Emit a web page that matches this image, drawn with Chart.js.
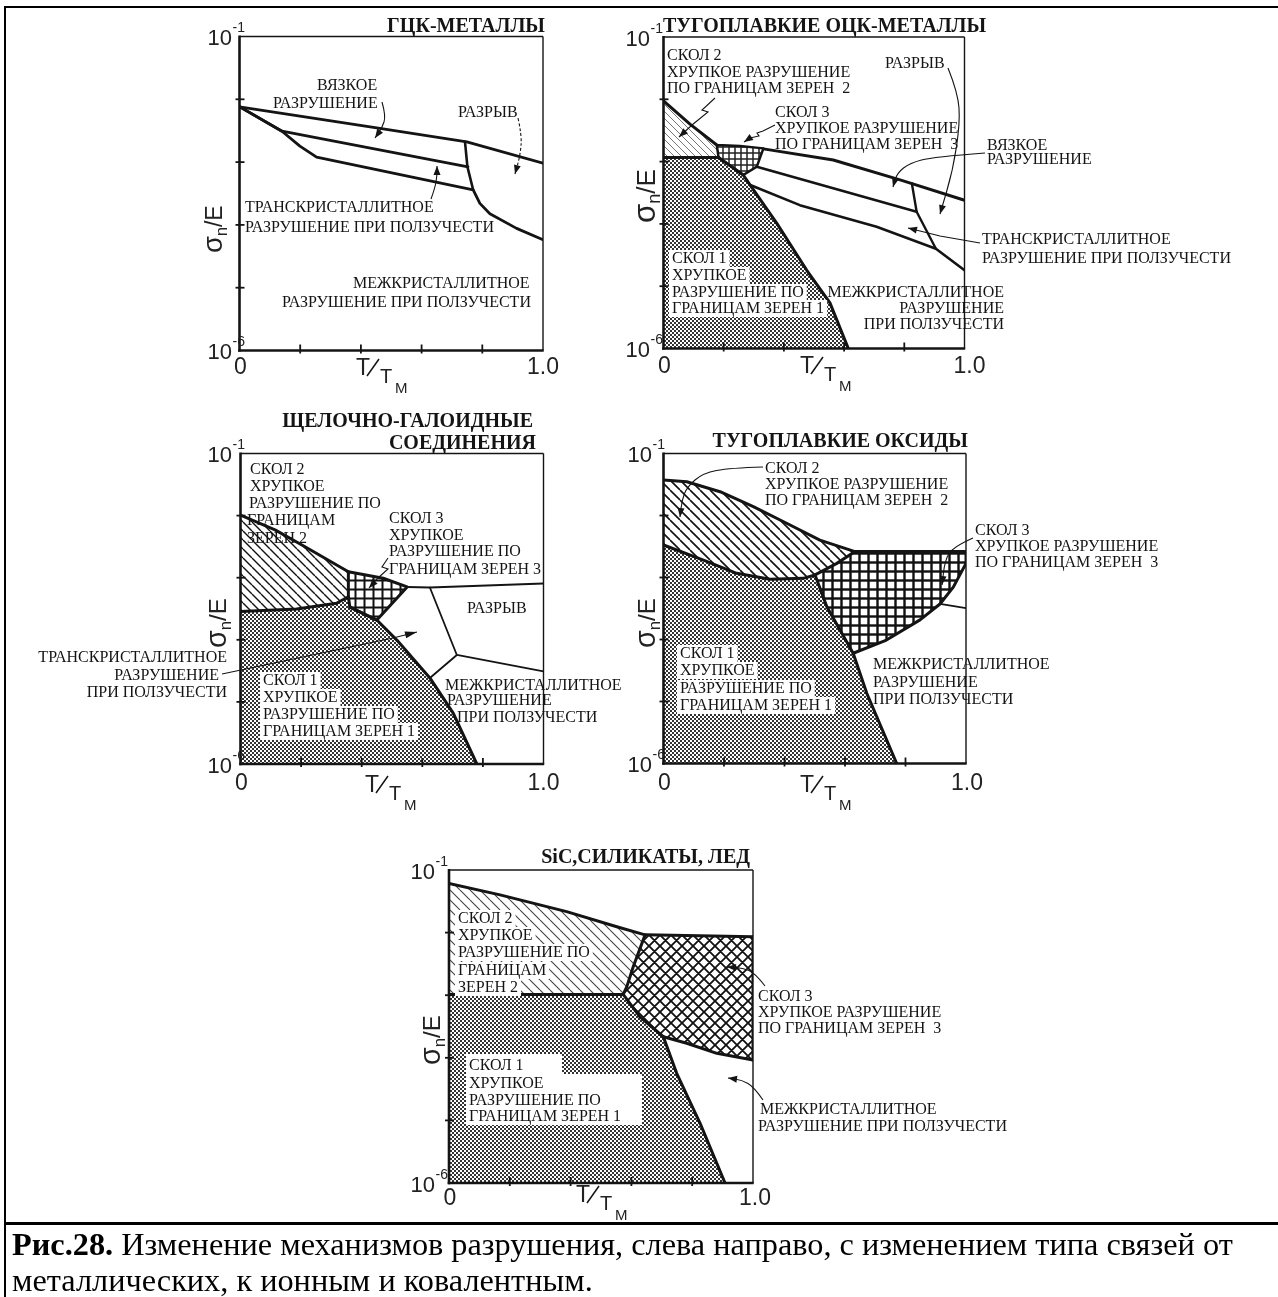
<!DOCTYPE html>
<html lang="ru">
<head>
<meta charset="utf-8">
<title>Карты механизмов разрушения</title>
<script src="https://cdn.jsdelivr.net/npm/chart.js@4.4.1/dist/chart.umd.min.js"></script>
<style>
  html, body { margin: 0; padding: 0; background: #fff; }
  #sheet { position: relative; width: 1278px; height: 1297px; overflow: hidden; background: #fff; }
  #sheet canvas { position: absolute; left: 0; top: 0; }
  .rule { position: absolute; background: #000; }
  #caption { position: absolute; left: 12px; top: 1226px; font: 32.3px/36px "Liberation Serif", "Times New Roman", serif; color: #000; white-space: nowrap; }
</style>
</head>
<body>
<div id="sheet">
  <canvas id="fcc" width="1278" height="1297"></canvas>
  <canvas id="bcc" width="1278" height="1297"></canvas>
  <canvas id="halide" width="1278" height="1297"></canvas>
  <canvas id="oxide" width="1278" height="1297"></canvas>
  <canvas id="sic" width="1278" height="1297"></canvas>
  <div class="rule" style="left:4px;top:6px;width:1274px;height:2px"></div>
  <div class="rule" style="left:4px;top:6px;width:2px;height:1291px"></div>
  <div class="rule" style="left:4px;top:1222px;width:1274px;height:3px"></div>
  <div id="caption"><b>Рис.28.</b> Изменение механизмов разрушения, слева направо, с изменением типа связей от<br>металлических, к ионным и ковалентным.</div>
</div>
<script>
var W = 1278, H = 1297;
var INK = '#141414';
var SERIF = '"Liberation Serif", "Times New Roman", serif';
var SANS = '"Liberation Sans", Arial, sans-serif';

// axes shared by all maps: T/Tm (0..1) and sigma_n/E (log, 1e-6..1e-1)
var xTickValues = [0.2, 0.4, 0.6, 0.8];
var yTickValues = [1e-2, 1e-3, 1e-4, 1e-5];
var xEndLabels = [0, 1];
var yEndLabels = [1e-1, 1e-6];

// ГЦК-металлы: field boundaries as [T/Tm, sigma/E]
var fccDuctileTop = [[0, 7.6e-3], [0.452, 3.5e-3], [0.749, 2.1e-3], [1, 9.6e-4]];
var fccDuctileBottom = [[0, 7.6e-3], [0.14, 3.1e-3], [0.753, 8.4e-4]];
var fccCreepBottom = [[0, 7.6e-3], [0.14, 3.1e-3], [0.199, 1.8e-3], [0.254, 1.2e-3], [0.77, 3.6e-4],
  [0.792, 2.2e-4], [0.825, 1.5e-4], [0.913, 8.8e-5], [1, 5.8e-5]];
var fccRupture = [[0.743, 2.1e-3], [0.751, 8.4e-4], [0.77, 3.6e-4]];

// тугоплавкие ОЦК-металлы
var bccCleavage2Edge = [[0, 9.4e-3], [0.088, 4.0e-3], [0.177, 1.85e-3]];
var bccCleavage1Top = [[0, 1.16e-3], [0.183, 1.16e-3]];
var bccCleavage3Field = [[0.177, 1.85e-3], [0.254, 1.78e-3], [0.332, 1.63e-3], [0.31, 8.3e-4],
  [0.265, 6.1e-4], [0.183, 1.16e-3], [0.177, 1.85e-3]];
var bccCleavage1Edge = [[0.183, 1.16e-3], [0.265, 6.1e-4], [0.288, 4.2e-4], [0.376, 1.03e-4],
  [0.476, 1.8e-5], [0.553, 5.4e-6], [0.614, 1e-6]];
var bccDuctileTop = [[0.332, 1.6e-3], [0.564, 1.06e-3], [0.786, 5.1e-4], [1, 2.4e-4]];
var bccDuctileBottom = [[0.31, 8.3e-4], [0.841, 1.57e-4]];
var bccCreepBottom = [[0.288, 4.2e-4], [0.453, 2.0e-4], [0.708, 9.0e-5], [0.905, 4.0e-5], [1, 1.8e-5]];
var bccRupture = [[0.825, 4.5e-4], [0.841, 1.57e-4], [0.905, 4.0e-5]];

// щелочно-галоидные соединения
var ahCleavage2Top = [[0, 1.02e-2], [0.114, 5.9e-3], [0.213, 3.15e-3], [0.356, 1.25e-3]];
var ahCleavage1Top = [[0, 2.86e-4], [0.185, 3.13e-4], [0.317, 3.87e-4], [0.356, 4.94e-4]];
var ahCleavage3Field = [[0.356, 1.25e-3], [0.471, 9.8e-4], [0.55, 7.1e-4], [0.45, 2.08e-4],
  [0.361, 3.37e-4], [0.356, 4.94e-4], [0.356, 1.25e-3]];
var ahCleavage1Edge = [[0.361, 3.37e-4], [0.45, 2.08e-4], [0.516, 9.9e-5], [0.625, 2.43e-5],
  [0.702, 6.6e-6], [0.78, 1e-6]];
var ahRuptureTop = [[0.55, 7.1e-4], [0.625, 6.95e-4], [1, 8.1e-4]];
var ahRuptureSide = [[0.625, 6.95e-4], [0.714, 5.7e-5], [1, 3.1e-5]];
var ahCreepLink = [[0.714, 5.7e-5], [0.625, 2.43e-5]];

// тугоплавкие оксиды
var oxCleavage2Top = [[0, 3.74e-2], [0.077, 3.5e-2], [0.187, 2.42e-2], [0.297, 1.39e-2], [0.407, 7.5e-3],
  [0.517, 4.0e-3], [0.633, 2.62e-3], [1, 2.62e-3]];
var oxCleavage2Bottom = [[0, 3.34e-3], [0.132, 1.91e-3], [0.242, 1.17e-3], [0.352, 9.35e-4],
  [0.462, 9.7e-4], [0.501, 1.1e-3], [0.573, 1.69e-3], [0.633, 2.62e-3]];
var oxCleavage1Edge = [[0.501, 1.1e-3], [0.54, 3.38e-4], [0.627, 6.0e-5], [0.672, 1.36e-5], [0.771, 1e-6]];
var oxCleavage3Bottom = [[0.627, 6.0e-5], [0.737, 9.8e-5], [0.848, 2.07e-4], [0.914, 3.74e-4],
  [0.958, 7.0e-4], [1, 1.69e-3]];
var oxCleavage3Side = [[1, 2.62e-3], [1, 1.69e-3]];
var oxCreepSpur = [[0.914, 3.74e-4], [1, 3.2e-4]];

// SiC, силикаты, лёд
var scCleavage2Top = [[0, 6.1e-2], [0.168, 4.0e-2], [0.387, 2.16e-2], [0.552, 1.24e-2], [0.645, 9.2e-3], [1, 8.6e-3]];
var scCleavage1Top = [[0, 1.03e-3], [0.573, 1.03e-3]];
var scCleavage23 = [[0.645, 9.2e-3], [0.606, 2.85e-3], [0.585, 1.37e-3], [0.573, 1.03e-3]];
var scCleavage13 = [[0.573, 1.03e-3], [0.628, 4.5e-4], [0.705, 2.17e-4]];
var scCleavage3Bottom = [[0.705, 2.17e-4], [0.782, 1.71e-4], [0.881, 1.18e-4], [1, 9.2e-5]];
var scCleavage1Edge = [[0.705, 2.17e-4], [0.749, 5.65e-5], [0.826, 9.0e-6], [0.908, 1e-6]];
var scCleavage3Side = [[1, 8.6e-3], [1, 9.2e-5]];

function rev(a) { return a.slice().reverse(); }

// closed outlines of the shaded fields, built from the boundaries above
var bccCleavage2Field = bccCleavage2Edge.concat(rev(bccCleavage1Top));
var bccCleavage1Field = bccCleavage1Top.concat(bccCleavage1Edge.slice(1), [[0, 1e-6]]);
var ahCleavage2Field = ahCleavage2Top.concat(rev(ahCleavage1Top));
var ahCleavage1Field = ahCleavage1Top.concat(ahCleavage1Edge, [[0, 1e-6]]);
var oxCleavage2Field = oxCleavage2Top.slice(0, 7).concat(rev(oxCleavage2Bottom));
var oxCleavage3Field = [[0.633, 2.62e-3], [1, 2.62e-3]].concat(rev(oxCleavage3Bottom),
  rev(oxCleavage1Edge.slice(0, 3)), oxCleavage2Bottom.slice(5));
var oxCleavage1Field = oxCleavage2Bottom.slice(0, 6).concat(oxCleavage1Edge.slice(1), [[0, 1e-6]]);
var scCleavage2Field = scCleavage2Top.slice(0, 5).concat(scCleavage23.slice(1), [[0, 1.03e-3]]);
var scCleavage3Field = scCleavage2Top.slice(4).concat([[1, 9.2e-5]], rev(scCleavage3Bottom).slice(1),
  rev(scCleavage13).slice(1), rev(scCleavage23).slice(1));
var scCleavage1Field = scCleavage1Top.concat(scCleavage13.slice(1), scCleavage1Edge.slice(1), [[0, 1e-6]]);

function pts(a) { return a.map(function (p) { return {x: p[0], y: p[1]}; }); }

// fill textures
function tile(size, paint) {
  var c = document.createElement('canvas');
  c.width = c.height = size;
  var g = c.getContext('2d');
  paint(g, size);
  return g.createPattern(c, 'repeat');
}
function stipple(ink) {
  return tile(4, function (g) {
    g.fillStyle = '#fff'; g.fillRect(0, 0, 4, 4);
    g.fillStyle = ink; g.fillRect(0, 0, 2, 2); g.fillRect(2, 2, 2, 2);
  });
}
function hatch(step, w, ink) {
  return tile(step, function (g, s) {
    g.strokeStyle = ink; g.lineWidth = w; g.beginPath();
    for (var k = -1; k <= 1; k++) { g.moveTo(k * s, 0); g.lineTo(k * s + s, s); }
    g.stroke();
  });
}
function grid(step, w, ink) {
  return tile(step, function (g, s) {
    g.fillStyle = '#fff'; g.fillRect(0, 0, s, s);
    g.fillStyle = ink; g.fillRect(0, (s - w) / 2, s, w); g.fillRect((s - w) / 2, 0, w, s);
  });
}
function lattice(step, w, ink) {
  return tile(step, function (g, s) {
    g.fillStyle = '#fff'; g.fillRect(0, 0, s, s);
    g.strokeStyle = ink; g.lineWidth = w; g.beginPath();
    for (var k = -1; k <= 1; k++) {
      g.moveTo(k * s, 0); g.lineTo(k * s + s, s);
      g.moveTo(k * s + s, 0); g.lineTo(k * s, s);
    }
    g.stroke();
  });
}

function block(x, ys, lines, opt) {
  return lines.map(function (t, i) {
    return Object.assign({t: t, x: Array.isArray(x) ? x[i] : x, y: ys[i]}, opt || {});
  });
}

// per-map layout: plot frame, titles, in-field labels and pointer lines
var notes = {
  fcc: {
    area: [239.5, 36.5, 543, 350.5], yGap: 7.5, xLabY: 374, oneDx: 0,
    tt: [356, 375], sigma: [222, 253, 1.15],
    titles: [{t: 'ГЦК-МЕТАЛЛЫ', x: 545, y: 31.5, align: 'right'}],
    labels: [
      {t: 'ВЯЗКОЕ', x: 317, y: 90},
      {t: 'РАЗРУШЕНИЕ', x: 273, y: 108},
      {t: 'РАЗРЫВ', x: 458, y: 117},
      {t: 'ТРАНСКРИСТАЛЛИТНОЕ', x: 245, y: 212},
      {t: 'РАЗРУШЕНИЕ ПРИ ПОЛЗУЧЕСТИ', x: 245, y: 232},
      {t: 'МЕЖКРИСТАЛЛИТНОЕ', x: 353, y: 288},
      {t: 'РАЗРУШЕНИЕ ПРИ ПОЛЗУЧЕСТИ', x: 282, y: 307}
    ],
    leaders: [
      {pts: [[382, 102], [386, 116], [382, 128], [375, 138]]},
      {pts: [[518, 118], [522, 136], [520, 156], [515, 174]], dash: [3, 2]},
      {pts: [[431, 199], [435, 188], [437, 176], [437, 166]]}
    ]
  },
  bcc: {
    area: [663.5, 37, 964.5, 348.5], yGap: 13.5, xLabY: 372.5, oneDx: 5,
    tt: [800, 373], sigma: [655, 223, 1.3],
    titles: [{t: 'ТУГОПЛАВКИЕ ОЦК-МЕТАЛЛЫ', x: 663, y: 31.5, align: 'left'}],
    labels: [].concat(
      block(667, [60, 77, 93], ['СКОЛ 2', 'ХРУПКОЕ РАЗРУШЕНИЕ', 'ПО ГРАНИЦАМ ЗЕРЕН  2']),
      block(775, [117, 133, 149], ['СКОЛ 3', 'ХРУПКОЕ РАЗРУШЕНИЕ', 'ПО ГРАНИЦАМ ЗЕРЕН  3']),
      [{t: 'РАЗРЫВ', x: 885, y: 68}],
      block(987, [150, 164], ['ВЯЗКОЕ', 'РАЗРУШЕНИЕ']),
      block(982, [244, 263], ['ТРАНСКРИСТАЛЛИТНОЕ', 'РАЗРУШЕНИЕ ПРИ ПОЛЗУЧЕСТИ']),
      block(672, [263, 280, 297, 313], ['СКОЛ 1', 'ХРУПКОЕ', 'РАЗРУШЕНИЕ ПО', 'ГРАНИЦАМ ЗЕРЕН 1'], {bg: true}),
      block(1004, [297, 313, 329], ['МЕЖКРИСТАЛЛИТНОЕ', 'РАЗРУШЕНИЕ', 'ПРИ ПОЛЗУЧЕСТИ'], {align: 'right'})
    ),
    leaders: [
      {pts: [[715, 98], [702, 110], [708, 112], [692, 125], [679, 137]], sharp: true},
      {pts: [[775, 125], [763, 131], [757, 133], [759, 136], [750, 138], [744, 142]], sharp: true},
      {pts: [[948, 68], [958, 93], [960, 123], [953, 170], [940, 214]]},
      {pts: [[985, 153], [933, 157], [910, 163], [897, 173], [893, 187]]},
      {pts: [[980, 243], [940, 236], [908, 228]], sharp: true}
    ]
  },
  halide: {
    area: [240.5, 453.5, 543.5, 764], yGap: 8.5, xLabY: 790, oneDx: 0,
    tt: [365, 792], sigma: [226, 648, 1.2],
    titles: [
      {t: 'ЩЕЛОЧНО-ГАЛОИДНЫЕ', x: 533, y: 427, align: 'right'},
      {t: 'СОЕДИНЕНИЯ', x: 536, y: 449, align: 'right'}
    ],
    labels: [].concat(
      block([250, 250, 249, 247, 247], [474, 491, 508, 525, 543], ['СКОЛ 2', 'ХРУПКОЕ', 'РАЗРУШЕНИЕ ПО', 'ГРАНИЦАМ', 'ЗЕРЕН 2']),
      block(389, [523, 540, 556, 574], ['СКОЛ 3', 'ХРУПКОЕ', 'РАЗРУШЕНИЕ ПО', 'ГРАНИЦАМ ЗЕРЕН 3']),
      [{t: 'РАЗРЫВ', x: 467, y: 613}],
      block([445, 447, 457], [690, 705, 722], ['МЕЖКРИСТАЛЛИТНОЕ', 'РАЗРУШЕНИЕ', 'ПРИ ПОЛЗУЧЕСТИ']),
      block([227, 219, 227], [662, 680, 697], ['ТРАНСКРИСТАЛЛИТНОЕ', 'РАЗРУШЕНИЕ', 'ПРИ ПОЛЗУЧЕСТИ'], {align: 'right'}),
      block(263, [685, 702, 719, 736], ['СКОЛ 1', 'ХРУПКОЕ', 'РАЗРУШЕНИЕ ПО', 'ГРАНИЦАМ ЗЕРЕН 1'], {bg: true})
    ),
    leaders: [
      {pts: [[388, 558], [382, 567], [388, 569], [378, 578], [369, 588]], sharp: true},
      {pts: [[222, 674], [393, 638], [417, 632]], sharp: true, head: 12}
    ]
  },
  oxide: {
    area: [663.5, 453.5, 966, 763.5], yGap: 11.5, xLabY: 790, oneDx: 1,
    tt: [800, 792], sigma: [655, 648, 1.2],
    titles: [{t: 'ТУГОПЛАВКИЕ ОКСИДЫ', x: 968, y: 446.5, align: 'right'}],
    labels: [].concat(
      block(765, [473, 489, 505], ['СКОЛ 2', 'ХРУПКОЕ РАЗРУШЕНИЕ', 'ПО ГРАНИЦАМ ЗЕРЕН  2']),
      block(975, [535, 551, 567], ['СКОЛ 3', 'ХРУПКОЕ РАЗРУШЕНИЕ', 'ПО ГРАНИЦАМ ЗЕРЕН  3']),
      block(873, [669, 687, 704], ['МЕЖКРИСТАЛЛИТНОЕ', 'РАЗРУШЕНИЕ', 'ПРИ ПОЛЗУЧЕСТИ']),
      block(680, [658, 675, 693, 710], ['СКОЛ 1', 'ХРУПКОЕ', 'РАЗРУШЕНИЕ ПО', 'ГРАНИЦАМ ЗЕРЕН 1'], {bg: true})
    ),
    leaders: [
      {pts: [[763, 467], [730, 468], [703, 473], [687, 487], [682, 500], [680, 517]]},
      {pts: [[973, 538], [953, 547], [945, 560], [942, 585]]}
    ]
  },
  sic: {
    area: [449, 870, 753, 1183], yGap: 14, xLabY: 1205, oneDx: 2,
    tt: [576, 1202], sigma: [440, 1065, 1.2],
    titles: [{t: 'SiC,СИЛИКАТЫ, ЛЕД', x: 750, y: 862.5, align: 'right'}],
    boxes: [[466, 1054, 96, 20], [466, 1074, 176, 51]],
    labels: [].concat(
      block(458, [923, 940, 957, 975, 992], ['СКОЛ 2', 'ХРУПКОЕ', 'РАЗРУШЕНИЕ ПО', 'ГРАНИЦАМ', 'ЗЕРЕН 2'], {bg: true}),
      block(469, [1070, 1088, 1105, 1121], ['СКОЛ 1', 'ХРУПКОЕ', 'РАЗРУШЕНИЕ ПО', 'ГРАНИЦАМ ЗЕРЕН 1']),
      block(758, [1001, 1017, 1033], ['СКОЛ 3', 'ХРУПКОЕ РАЗРУШЕНИЕ', 'ПО ГРАНИЦАМ ЗЕРЕН  3']),
      block([760, 758], [1114, 1131], ['МЕЖКРИСТАЛЛИТНОЕ', 'РАЗРУШЕНИЕ ПРИ ПОЛЗУЧЕСТИ'])
    ),
    leaders: [
      {pts: [[765, 986], [755, 973], [743, 968], [727, 967]]},
      {pts: [[763, 1100], [754, 1087], [742, 1080], [728, 1078]]}
    ]
  }
};

function seg(ctx, x1, y1, x2, y2, w) {
  ctx.lineWidth = w;
  ctx.beginPath(); ctx.moveTo(x1, y1); ctx.lineTo(x2, y2); ctx.stroke();
}

function drawLeader(ctx, l) {
  var p = l.pts, i;
  ctx.save();
  ctx.lineWidth = 1.1;
  if (l.dash) ctx.setLineDash(l.dash);
  ctx.beginPath();
  ctx.moveTo(p[0][0], p[0][1]);
  if (l.sharp || p.length < 3) {
    for (i = 1; i < p.length; i++) ctx.lineTo(p[i][0], p[i][1]);
  } else {
    for (i = 1; i < p.length - 1; i++) {
      ctx.quadraticCurveTo(p[i][0], p[i][1], (p[i][0] + p[i + 1][0]) / 2, (p[i][1] + p[i + 1][1]) / 2);
    }
    ctx.lineTo(p[p.length - 1][0], p[p.length - 1][1]);
  }
  ctx.stroke();
  ctx.setLineDash([]);
  var a = p[p.length - 2], b = p[p.length - 1];
  var ang = Math.atan2(b[1] - a[1], b[0] - a[0]), len = l.head || 9, half = 3.5;
  var bx = b[0] - len * Math.cos(ang), by = b[1] - len * Math.sin(ang);
  ctx.beginPath();
  ctx.moveTo(b[0], b[1]);
  ctx.lineTo(bx + half * Math.sin(ang), by - half * Math.cos(ang));
  ctx.lineTo(bx - half * Math.sin(ang), by + half * Math.cos(ang));
  ctx.closePath(); ctx.fill();
  ctx.restore();
}

function drawSigma(ctx, x0, y0, s) {
  ctx.save();
  ctx.translate(x0, y0); ctx.rotate(-Math.PI / 2);
  ctx.textAlign = 'left';
  var u = 0;
  function put(t, size, dy) {
    ctx.font = (size * s) + 'px ' + SANS;
    ctx.fillText(t, u, dy * s);
    u += ctx.measureText(t).width;
  }
  put('σ', 24, 0); put('n', 14, 4); put('/', 20, 0); put('E', 20, 0);
  ctx.restore();
}

function drawTT(ctx, x, y) {
  ctx.textAlign = 'left';
  ctx.font = '23px ' + SANS; ctx.fillText('T', x, y);
  seg(ctx, x + 11, y + 1, x + 23, y - 16, 1.5);
  ctx.font = '20px ' + SANS; ctx.fillText('T', x + 24, y + 8);
  ctx.font = '15px ' + SANS; ctx.fillText('M', x + 39, y + 18);
}

var decor = {
  id: 'decor',
  afterDatasetsDraw: function (chart) {
    var n = notes[chart.canvas.id];
    var ctx = chart.ctx, a = chart.chartArea, xs = chart.scales.x, ys = chart.scales.y;
    ctx.save();
    ctx.strokeStyle = INK; ctx.fillStyle = INK; ctx.textBaseline = 'alphabetic';

    // frame: light top and right edges, heavy axes
    seg(ctx, a.left, a.top, a.right, a.top, 1.4);
    seg(ctx, a.right, a.top, a.right, a.bottom, 1.4);
    seg(ctx, a.left, a.top - 1, a.left, a.bottom + 1.3, 2.6);
    seg(ctx, a.left - 1.3, a.bottom, a.right + 0.7, a.bottom, 2.6);
    yTickValues.forEach(function (v) {
      var p = ys.getPixelForValue(v);
      seg(ctx, a.left - 4, p, a.left + 5, p, 1.8);
    });
    xTickValues.forEach(function (v) {
      var p = xs.getPixelForValue(v);
      seg(ctx, p, a.bottom - 6, p, a.bottom + 3, 1.8);
    });

    // axis end labels
    ctx.fillStyle = '#222';
    yEndLabels.forEach(function (v) {
      var p = ys.getPixelForValue(v);
      ctx.font = '22px ' + SANS; ctx.textAlign = 'right';
      ctx.fillText('10', a.left - n.yGap, p + 8.5);
      ctx.font = '14px ' + SANS; ctx.textAlign = 'left';
      ctx.fillText(String(Math.round(Math.log10(v))), a.left - n.yGap + 0.5, p - 4.5);
    });
    ctx.font = '23px ' + SANS; ctx.textAlign = 'center';
    xEndLabels.forEach(function (v) {
      ctx.fillText(v === 0 ? '0' : v.toFixed(1), xs.getPixelForValue(v) + (v === 0 ? 1 : n.oneDx), n.xLabY);
    });
    drawTT(ctx, n.tt[0], n.tt[1]);
    drawSigma(ctx, n.sigma[0], n.sigma[1], n.sigma[2]);

    // map titles
    ctx.fillStyle = INK;
    ctx.font = 'bold 20px ' + SERIF;
    n.titles.forEach(function (t) { ctx.textAlign = t.align; ctx.fillText(t.t, t.x, t.y); });

    // field names
    ctx.fillStyle = '#fff';
    (n.boxes || []).forEach(function (b) { ctx.fillRect(b[0], b[1], b[2], b[3]); });
    ctx.font = '16px ' + SERIF; ctx.textAlign = 'left';
    n.labels.forEach(function (l) {
      var w = ctx.measureText(l.t).width;
      var x = l.align === 'right' ? l.x - w : l.x;
      if (l.bg) { ctx.fillStyle = '#fff'; ctx.fillRect(x - 3, l.y - 13, w + 6, 17); }
      ctx.fillStyle = INK;
      ctx.fillText(l.t, x, l.y);
    });

    ctx.fillStyle = INK; ctx.strokeStyle = INK;
    n.leaders.forEach(function (l) { drawLeader(ctx, l); });
    ctx.restore();
  }
};

function fieldMap(id, fields, bounds) {
  var area = notes[id].area;
  var datasets = fields.map(function (f) {
    return {
      data: pts(f.shape), fill: 'shape', backgroundColor: f.fill,
      borderWidth: 0, borderColor: 'rgba(0,0,0,0)', pointRadius: 0, order: 2
    };
  }).concat(bounds.map(function (b) {
    return {
      data: pts(b.line), fill: false, borderColor: INK, borderWidth: b.width,
      borderJoinStyle: 'round', borderCapStyle: 'round', pointRadius: 0, order: 1
    };
  }));
  return new Chart(document.getElementById(id), {
    type: 'line',
    data: {datasets: datasets},
    options: {
      responsive: false, animation: false, devicePixelRatio: 1, events: [],
      layout: {padding: {left: area[0], top: area[1], right: W - area[2], bottom: H - area[3]}},
      scales: {
        x: {type: 'linear', min: 0, max: 1, display: false},
        y: {type: 'logarithmic', min: 1e-6, max: 1e-1, display: false}
      },
      plugins: {legend: {display: false}, tooltip: {enabled: false}}
    },
    plugins: [decor]
  });
}

fieldMap('fcc', [], [
  {line: fccDuctileTop, width: 2.8},
  {line: fccDuctileBottom, width: 2.8},
  {line: fccCreepBottom, width: 2.8},
  {line: fccRupture, width: 2.6}
]);

fieldMap('bcc', [
  {shape: bccCleavage1Field, fill: stipple('#333')},
  {shape: bccCleavage2Field, fill: hatch(7, 1, '#777')},
  {shape: bccCleavage3Field, fill: grid(6, 1.5, '#222')}
], [
  {line: bccCleavage2Edge, width: 3},
  {line: bccCleavage1Top, width: 3},
  {line: bccCleavage3Field, width: 2.5},
  {line: bccCleavage1Edge, width: 3},
  {line: bccDuctileTop, width: 3},
  {line: bccDuctileBottom, width: 2.6},
  {line: bccCreepBottom, width: 2.6},
  {line: bccRupture, width: 2.4}
]);

fieldMap('halide', [
  {shape: ahCleavage1Field, fill: stipple('#333')},
  {shape: ahCleavage2Field, fill: hatch(9, 1.4, '#111')},
  {shape: ahCleavage3Field, fill: grid(9, 2, '#111')}
], [
  {line: ahCleavage2Top, width: 3},
  {line: ahCleavage1Top, width: 3},
  {line: ahCleavage3Field, width: 3},
  {line: ahCleavage1Edge, width: 3},
  {line: ahRuptureTop, width: 2},
  {line: ahRuptureSide, width: 1.8},
  {line: ahCreepLink, width: 1.8}
]);

fieldMap('oxide', [
  {shape: oxCleavage1Field, fill: stipple('#333')},
  {shape: oxCleavage2Field, fill: hatch(10, 1.6, '#111')},
  {shape: oxCleavage3Field, fill: grid(9, 2.4, '#111')}
], [
  {line: oxCleavage2Top, width: 3},
  {line: oxCleavage2Bottom, width: 3},
  {line: oxCleavage1Edge, width: 3},
  {line: oxCleavage3Bottom, width: 3},
  {line: oxCleavage3Side, width: 3},
  {line: oxCreepSpur, width: 1.8}
]);

fieldMap('sic', [
  {shape: scCleavage1Field, fill: stipple('#333')},
  {shape: scCleavage2Field, fill: hatch(10, 1.1, '#444')},
  {shape: scCleavage3Field, fill: lattice(11, 1.8, '#111')}
], [
  {line: scCleavage2Top, width: 3},
  {line: scCleavage1Top, width: 3},
  {line: scCleavage23, width: 3},
  {line: scCleavage13, width: 3},
  {line: scCleavage3Bottom, width: 3},
  {line: scCleavage1Edge, width: 3},
  {line: scCleavage3Side, width: 3}
]);
</script>
</body>
</html>
